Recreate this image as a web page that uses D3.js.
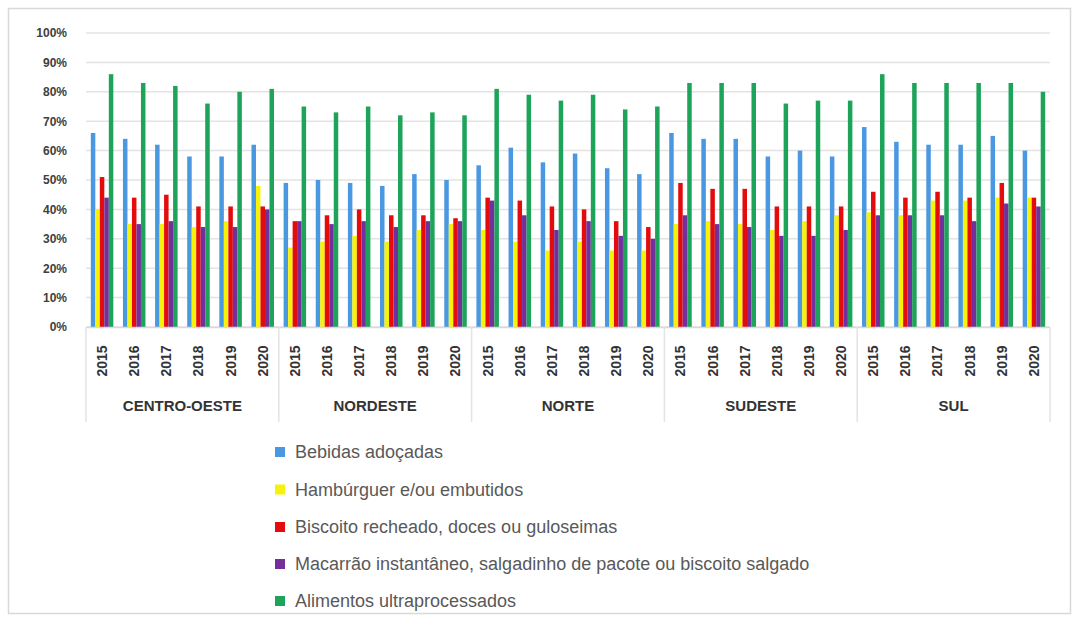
<!DOCTYPE html>
<html>
<head>
<meta charset="utf-8">
<script src="https://cdn.jsdelivr.net/npm/d3@7/dist/d3.min.js"></script>
<style>
  html, body { margin: 0; padding: 0; background: #ffffff; }
  svg { display: block; font-family: "Liberation Sans", Arial, sans-serif; }
</style>
</head>
<body>
<svg id="chart" width="1079" height="622"></svg>
<script>
// Regions and survey years (two-level category axis)
const regions = ["CENTRO-OESTE", "NORDESTE", "NORTE", "SUDESTE", "SUL"];
const years = ["2015", "2016", "2017", "2018", "2019", "2020"];

// Series names (legend order)
const seriesNames = [
  "Bebidas adoçadas",
  "Hambúrguer e/ou embutidos",
  "Biscoito recheado, doces ou guloseimas",
  "Macarrão instantâneo, salgadinho de pacote ou biscoito salgado",
  "Alimentos ultraprocessados"
];
const seriesColors = ["#4a98e2", "#f7f20a", "#e30b0b", "#73309c", "#1ea35b"];

// Percentages, region by region, 2015–2020
const bebidasAdocadas = [
  66, 64, 62, 58, 58, 62,
  49, 50, 49, 48, 52, 50,
  55, 61, 56, 59, 54, 52,
  66, 64, 64, 58, 60, 58,
  68, 63, 62, 62, 65, 60
];
const hamburguerEmbutidos = [
  40, 35, 35, 34, 36, 48,
  27, 29, 31, 29, 33, 35,
  33, 29, 26, 29, 26, 26,
  35, 36, 35, 33, 36, 38,
  39, 38, 43, 43, 44, 44
];
const biscoitoRecheado = [
  51, 44, 45, 41, 41, 41,
  36, 38, 40, 38, 38, 37,
  44, 43, 41, 40, 36, 34,
  49, 47, 47, 41, 41, 41,
  46, 44, 46, 44, 49, 44
];
const macarraoSalgadinho = [
  44, 35, 36, 34, 34, 40,
  36, 35, 36, 34, 36, 36,
  43, 38, 33, 36, 31, 30,
  38, 35, 34, 31, 31, 33,
  38, 38, 38, 36, 42, 41
];
const ultraprocessados = [
  86, 83, 82, 76, 80, 81,
  75, 73, 75, 72, 73, 72,
  81, 79, 77, 79, 74, 75,
  83, 83, 83, 76, 77, 77,
  86, 83, 83, 83, 83, 80
];
const yTicks = [0, 10, 20, 30, 40, 50, 60, 70, 80, 90, 100];

const seriesValues = [bebidasAdocadas, hamburguerEmbutidos, biscoitoRecheado, macarraoSalgadinho, ultraprocessados];

// Flattened category list: one entry per (region, year)
const categories = [];
regions.forEach(r => years.forEach(y => categories.push({ region: r, year: y, key: r + "|" + y })));

const svg = d3.select("#chart");
const W = 1079, H = 622;
const plot = { left: 86, right: 1050, top: 33, bottom: 327 };

// Chart frame
svg.append("rect")
  .attr("x", 8.5).attr("y", 8.5)
  .attr("width", W - 17).attr("height", H - 17)
  .attr("fill", "#ffffff")
  .attr("stroke", "#d9d9d9").attr("stroke-width", 1.5);

const x = d3.scaleBand()
  .domain(categories.map(d => d.key))
  .range([plot.left, plot.right])
  .paddingInner(0).paddingOuter(0);

// Bars fill about 70% of each year slot
const xSeries = d3.scaleBand()
  .domain(d3.range(seriesNames.length))
  .range([0, x.bandwidth()])
  .paddingOuter(1.07).paddingInner(0);

const y = d3.scaleLinear().domain([0, 100]).range([plot.bottom, plot.top]);

const regionScale = d3.scaleBand()
  .domain(regions)
  .range([plot.left, plot.right]);

// Gridlines
svg.append("g")
  .selectAll("line")
  .data(yTicks)
  .join("line")
  .attr("x1", plot.left).attr("x2", plot.right)
  .attr("y1", d => y(d)).attr("y2", d => y(d))
  .attr("stroke", "#e3e3e3").attr("stroke-width", 1.5);

// Y axis labels
const yAxis = d3.axisLeft(y)
  .tickValues(yTicks)
  .tickFormat(d => d + "%")
  .tickSize(0)
  .tickPadding(0);
const yG = svg.append("g")
  .attr("transform", `translate(${plot.left - 19},0)`)
  .call(yAxis);
yG.select(".domain").remove();
yG.selectAll("text")
  .attr("fill", "#404040")
  .attr("font-size", 12)
  .attr("font-weight", "bold")
  .attr("font-family", "Liberation Sans, Arial, sans-serif");

// Bars
const barGroups = svg.append("g")
  .selectAll("g")
  .data(categories)
  .join("g")
  .attr("transform", d => `translate(${x(d.key)},0)`);

barGroups.selectAll("rect")
  .data((d, i) => seriesValues.map((vals, s) => ({ s, v: vals[i] })))
  .join("rect")
  .attr("x", d => xSeries(d.s))
  .attr("width", xSeries.bandwidth())
  .attr("y", d => y(d.v))
  .attr("height", d => y(0) - y(d.v))
  .attr("fill", d => seriesColors[d.s]);

// Category axis baseline
svg.append("line")
  .attr("x1", plot.left).attr("x2", plot.right)
  .attr("y1", plot.bottom + 0.5).attr("y2", plot.bottom + 0.5)
  .attr("stroke", "#d9d9d9").attr("stroke-width", 1.5);

// Year labels (rotated)
const xAxis = d3.axisBottom(x)
  .tickFormat(k => k.split("|")[1])
  .tickSize(0);
const xG = svg.append("g")
  .attr("transform", `translate(0,${plot.bottom})`)
  .call(xAxis);
xG.select(".domain").remove();
xG.selectAll("text")
  .attr("transform", "rotate(-90)")
  .attr("text-anchor", "middle")
  .attr("x", -34)
  .attr("y", 0)
  .attr("dy", "0.35em")
  .attr("fill", "#333333")
  .attr("font-size", 14)
  .attr("font-weight", "bold")
  .attr("font-family", "Liberation Sans, Arial, sans-serif");

// Region dividers
const dividers = regions.map(r => regionScale(r)).concat([plot.right]);
svg.append("g")
  .selectAll("line")
  .data(dividers)
  .join("line")
  .attr("x1", d => d).attr("x2", d => d)
  .attr("y1", plot.bottom).attr("y2", 422)
  .attr("stroke", "#e3e3e3").attr("stroke-width", 1.5);

// Region labels
svg.append("g")
  .selectAll("text")
  .data(regions)
  .join("text")
  .attr("x", d => regionScale(d) + regionScale.bandwidth() / 2)
  .attr("y", 406)
  .attr("dy", "0.35em")
  .attr("text-anchor", "middle")
  .attr("fill", "#333333")
  .attr("font-size", 15)
  .attr("font-weight", "bold")
  .text(d => d);

// Legend
const legendRows = [452, 489.5, 527, 564, 601];
const legend = svg.append("g")
  .selectAll("g")
  .data(seriesNames)
  .join("g")
  .attr("transform", (d, i) => `translate(275,${legendRows[i]})`);
legend.append("rect")
  .attr("x", 0).attr("y", -5)
  .attr("width", 10).attr("height", 10)
  .attr("fill", (d, i) => seriesColors[i]);
legend.append("text")
  .attr("x", 20).attr("y", 0)
  .attr("dy", "0.35em")
  .attr("fill", "#595959")
  .attr("font-size", 18)
  .text(d => d);
</script>
</body>
</html>
